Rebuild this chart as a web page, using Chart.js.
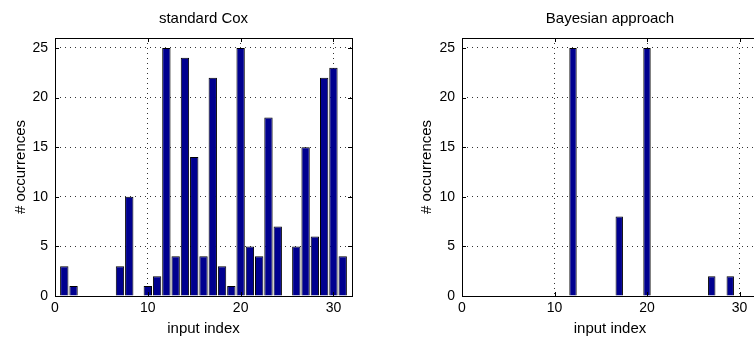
<!DOCTYPE html>
<html>
<head>
<meta charset="utf-8">
<script src="https://cdn.jsdelivr.net/npm/chart.js@4.4.1/dist/chart.umd.min.js"></script>
<style>
  html, body { margin: 0; padding: 0; width: 754px; height: 345px; overflow: hidden; background: #fff; }
  #wrapL { position: absolute; left: 0; top: 0; width: 377px; height: 345px; }
  #wrapR { position: absolute; left: 377px; top: 0; width: 420px; height: 345px; }
</style>
</head>
<body>
<div id="wrapL"><canvas id="cL" width="377" height="345"></canvas></div>
<div id="wrapR"><canvas id="cR" width="420" height="345"></canvas></div>
<script>
// ---- data ----
const inputIndex = [1,2,3,4,5,6,7,8,9,10,11,12,13,14,15,16,17,18,19,20,21,22,23,24,25,26,27,28,29,30,31];
const standardCox = [3,1,0,0,0,0,3,10,0,1,2,25,4,24,14,4,22,3,1,25,5,4,18,7,0,5,15,6,22,23,4];
const bayesian    = [0,0,0,0,0,0,0,0,0,0,0,25,0,0,0,0,8,0,0,25,0,0,0,0,0,0,2,0,2,0,0];
const xTicks = [0,10,20,30];
const yTicks = [0,5,10,15,20,25];
const titles = ['standard Cox', 'Bayesian approach'];
const xLabel = 'input index';
const yLabel = '# occurrences';

const FONT = "'Liberation Sans', Arial, Helvetica, sans-serif";

const boxPlugin = {
  id: 'boxTicks',
  afterDatasetsDraw(chart) {
    const {ctx, chartArea: a, scales} = chart;
    ctx.save();
    ctx.strokeStyle = '#000';
    ctx.lineWidth = 1;
    const L = 4;
    ctx.beginPath();
    scales.x.ticks.forEach(t => {
      const px = Math.round(scales.x.getPixelForValue(t.value)) + 0.5;
      ctx.moveTo(px, a.bottom); ctx.lineTo(px, a.bottom - L);
      ctx.moveTo(px, a.top); ctx.lineTo(px, a.top + L);
    });
    scales.y.ticks.forEach(t => {
      const py = Math.round(scales.y.getPixelForValue(t.value)) + 0.5;
      ctx.moveTo(a.left, py); ctx.lineTo(a.left + L, py);
      ctx.moveTo(a.right, py); ctx.lineTo(a.right - L, py);
    });
    ctx.stroke();
    ctx.strokeRect(Math.round(a.left) + 0.5, Math.round(a.top) + 0.5,
                   Math.round(a.right - a.left), Math.round(a.bottom - a.top));
    ctx.restore();
  }
};

function makeChart(id, title, values, barPct, yAxisWidth, yTitlePad, rightPad) {
  const pts = inputIndex.map((x, i) => ({x: x, y: values[i]}));
  return new Chart(document.getElementById(id), {
    type: 'bar',
    data: {
      datasets: [{
        data: pts,
        backgroundColor: '#00008F',
        borderColor: '#000000',
        borderWidth: ctx => (ctx.raw && ctx.raw.y) ? 1 : 0,
        borderSkipped: 'bottom',
        barPercentage: barPct,
        categoryPercentage: 1.0
      }]
    },
    options: {
      responsive: false,
      animation: false,
      events: [],
      layout: { padding: { left: 0, right: rightPad, top: 0, bottom: 0 } },
      plugins: {
        legend: { display: false },
        tooltip: { enabled: false },
        title: {
          display: true,
          text: title,
          fullSize: false,
          color: '#000',
          font: { family: FONT, size: 15, weight: 'normal' },
          padding: { top: 10, bottom: 10 }
        }
      },
      scales: {
        x: {
          type: 'linear',
          min: 0, max: 32,
          offset: false,
          afterBuildTicks: s => { s.ticks = xTicks.map(v => ({value: v})); },
          afterFit: s => { s.height = 49; },
          grid: { offset: false, color: '#333', lineWidth: 1, drawTicks: false },
          border: { display: false, dash: [1, 4] },
          ticks: { color: '#000', font: { family: FONT, size: 14 }, padding: 4, maxRotation: 0 },
          title: { display: true, text: xLabel, color: '#000', font: { family: FONT, size: 15 }, padding: { top: 0, bottom: 7 } }
        },
        y: {
          type: 'linear',
          min: 0, max: 26,
          afterBuildTicks: s => { s.ticks = yTicks.map(v => ({value: v})); },
          afterFit: s => { s.width = yAxisWidth; },
          grid: { color: '#333', lineWidth: 1, drawTicks: false },
          border: { display: false, dash: [1, 4] },
          ticks: { color: '#000', font: { family: FONT, size: 14 }, padding: 7 },
          title: { display: true, text: yLabel, color: '#000', font: { family: FONT, size: 15 }, padding: { top: yTitlePad, bottom: 0 } }
        }
      }
    },
    plugins: [boxPlugin]
  });
}

makeChart('cL', titles[0], standardCox, 0.9, 55, 12, 25);
makeChart('cR', titles[1], bayesian, 0.8, 85, 41, 39);
</script>
</body>
</html>
